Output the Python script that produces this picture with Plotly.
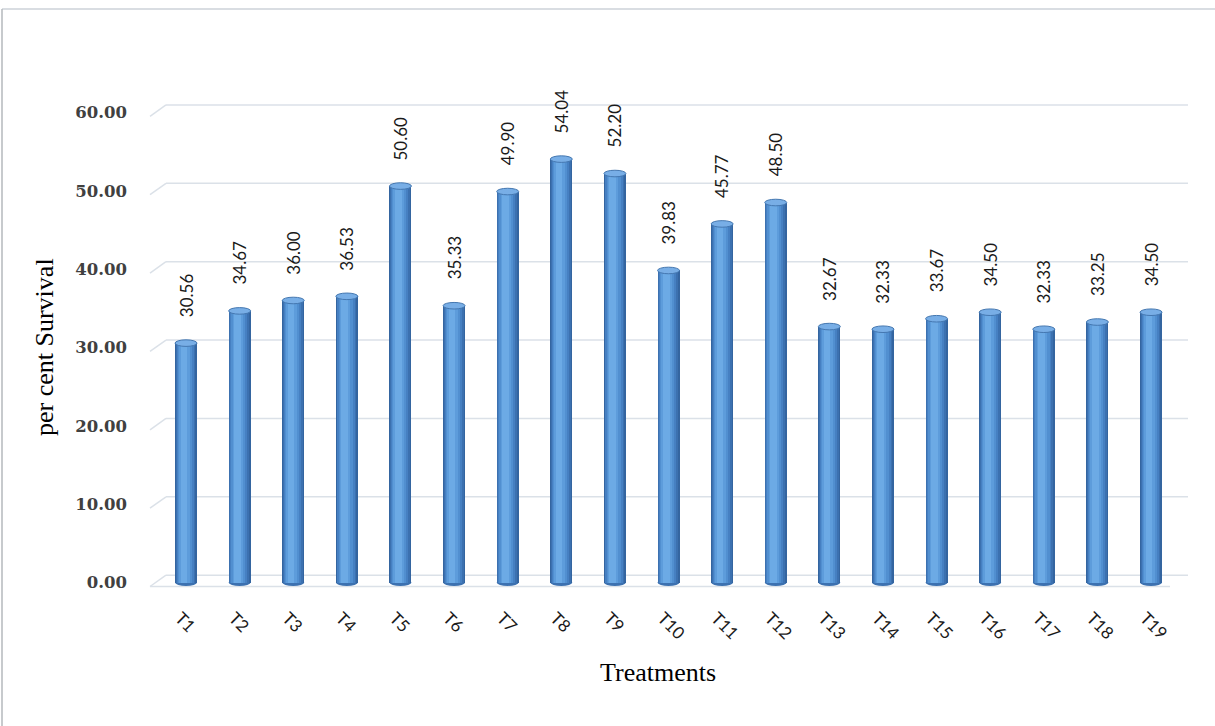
import plotly.graph_objects as go

categories = ["T1", "T2", "T3", "T4", "T5", "T6", "T7", "T8", "T9", "T10",
              "T11", "T12", "T13", "T14", "T15", "T16", "T17", "T18", "T19"]
survival = [30.56, 34.67, 36.00, 36.53, 50.60, 35.33, 49.90, 54.04, 52.20, 39.83,
            45.77, 48.50, 32.67, 32.33, 33.67, 34.50, 32.33, 33.25, 34.50]
y_ticks = [0, 10, 20, 30, 40, 50, 60]
y_ticktext = ["0.00", "10.00", "20.00", "30.00", "40.00", "50.00", "60.00"]

W, H = 1215, 726
PXU = 7.85                      # px per unit
Y0PX = 583                      # px of value 0
YMIN, YMAX = -1.2, 61.2
L, R = 150, 1188
T = round(Y0PX - YMAX * PXU)
B = round(Y0PX - YMIN * PXU)

def xp(px):
    return (px - L) / (R - L)
def yp(py):
    return (B - py) / (B - T)

BW = 0.41  # bar width in category units
layers = [
    (1.00, 0.00, "#3465a0"),
    (0.90, -0.02, "#3c71b0"),
    (0.78, -0.04, "#4680c2"),
    (0.64, -0.06, "#518fd0"),
    (0.48, -0.08, "#5d9cdb"),
    (0.30, -0.10, "#6caae5"),
]

fig = go.Figure()
for frac, off, col in layers:
    w = BW * frac
    fig.add_trace(go.Bar(
        x=categories, y=survival,
        width=[w] * len(categories),
        offset=[-w / 2 + off * BW] * len(categories),
        marker=dict(color=col, line=dict(width=0)),
        hoverinfo="skip", showlegend=False,
    ))

shapes = []
up = 0.95   # back wall offset (units)
dn = -0.5   # front offset (units)
gcol = "#dbe1e8"
for v in y_ticks:
    shapes.append(dict(type="line", xref="paper", yref="y", layer="below",
                       x0=xp(166), x1=1, y0=v + up, y1=v + up,
                       line=dict(color=gcol, width=1.5)))
    shapes.append(dict(type="line", xref="paper", yref="y", layer="below",
                       x0=0, x1=xp(166), y0=v + dn, y1=v + up,
                       line=dict(color=gcol, width=1.5)))
shapes.append(dict(type="line", xref="paper", yref="y", layer="below",
                   x0=0, x1=xp(1170), y0=dn, y1=dn,
                   line=dict(color=gcol, width=1.5)))

eh = 0.42
for i, v in enumerate(survival):
    shapes.append(dict(type="circle", xref="x", yref="y", layer="below",
                       x0=i - BW / 2, x1=i + BW / 2, y0=-eh, y1=eh,
                       fillcolor="#3c71b0", line=dict(width=0)))
    shapes.append(dict(type="circle", xref="x", yref="y", layer="above",
                       x0=i - BW / 2, x1=i + BW / 2, y0=v - eh, y1=v + eh,
                       fillcolor="#78aee6", line=dict(color="#4477b0", width=1)))

# frame lines
shapes.append(dict(type="line", xref="paper", yref="paper",
                   x0=xp(2), x1=xp(1215), y0=yp(9), y1=yp(9),
                   line=dict(color="#d9dde2", width=2)))
shapes.append(dict(type="line", xref="paper", yref="paper",
                   x0=xp(2), x1=xp(2), y0=yp(9), y1=yp(726),
                   line=dict(color="#b5b9bd", width=1.5)))

annotations = []
for i, v in enumerate(survival):
    annotations.append(dict(x=i, y=v, xref="x", yref="y",
                            text=f"{v:.2f}", showarrow=False, textangle=-90,
                            xanchor="center", yanchor="bottom", yshift=24,
                            font=dict(family="Lato", size=17, color="#1a1a1a")))
annotations.append(dict(x=xp(44), y=yp(347), xref="paper", yref="paper",
                        text="per cent Survival", showarrow=False, textangle=-90,
                        xanchor="center", yanchor="middle",
                        font=dict(family="Liberation Serif", size=26, color="#000000")))
annotations.append(dict(x=xp(658), y=yp(672), xref="paper", yref="paper",
                        text="Treatments", showarrow=False,
                        xanchor="center", yanchor="middle",
                        font=dict(family="Liberation Serif", size=26, color="#000000")))

fig.update_layout(
    width=W, height=H,
    margin=dict(l=L, r=W - R, t=T, b=H - B, pad=0),
    paper_bgcolor="white", plot_bgcolor="white",
    barmode="overlay", bargap=0,
    shapes=shapes, annotations=annotations,
    xaxis=dict(type="category", range=[-0.672, 18.69],
               showgrid=False, zeroline=False, showline=False,
               tickangle=45, ticks="", ticklabelstandoff=12, ticklabelshift=-6,
               tickfont=dict(family="Lato", size=17, color="#1a1a1a")),
    yaxis=dict(range=[YMIN, YMAX], tickvals=y_ticks, ticktext=y_ticktext,
               showgrid=False, zeroline=False, showline=False, ticks="",
               ticklabelstandoff=22,
               tickfont=dict(family="DejaVu Serif", size=16.5, color="#404040", weight="bold")),
)

fig.write_html("out.html")
